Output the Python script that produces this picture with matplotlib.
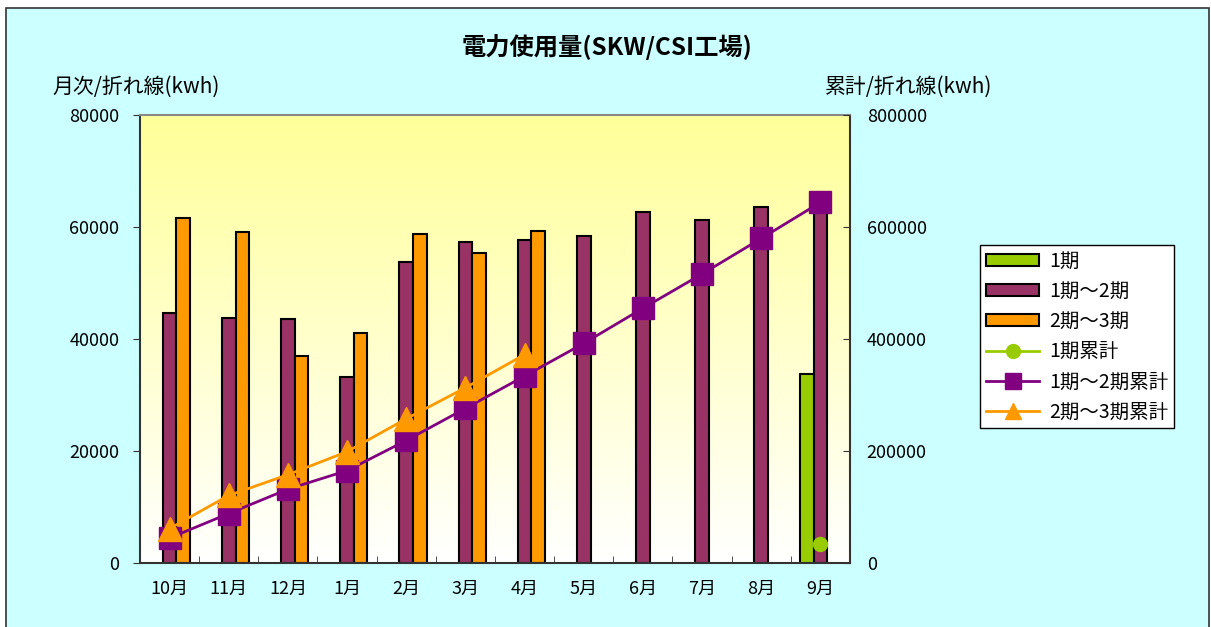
import numpy as np
import matplotlib
matplotlib.use("Agg")
import matplotlib.pyplot as plt
from matplotlib.patches import Rectangle, Patch
from matplotlib.lines import Line2D
from matplotlib.colors import LinearSegmentedColormap

plt.rcParams['font.family'] = ['Noto Sans CJK JP', 'DejaVu Sans']

months = ['10月', '11月', '12月', '1月', '2月', '3月', '4月', '5月', '6月', '7月', '8月', '9月']
# monthly bars
p1 = [None]*11 + [33800]
p12 = [44600, 43750, 43500, 33150, 53800, 57250, 57730, 58450, 62680, 61180, 63500, 64300]
p23 = [61600, 59100, 37000, 41130, 58750, 55360, 59220, None, None, None, None, None]
# cumulative lines
c1 = [None]*11 + [33800]
c12 = [44600, 88350, 131850, 165000, 218800, 276050, 333780, 392230, 454910, 516090, 579590, 643900]
c23 = [61600, 120700, 157700, 198830, 257580, 312940, 372160, None, None, None, None, None]

title = '電力使用量(SKW/CSI工場)'
ylabel_left = '月次/折れ線(kwh)'
ylabel_right = '累計/折れ線(kwh)'
names = ['1期', '1期～2期', '2期～3期', '1期累計', '1期～2期累計', '2期～3期累計']

c_green = '#99CC00'
c_maroon = '#993366'
c_orange = '#FF9900'
c_purple = '#800080'

W, H = 1211, 627
fig = plt.figure(figsize=(W/100, H/100), dpi=100, facecolor='white')
fig.patches.append(Rectangle((6/W, -0.05), (1209-6)/W, 1 - 8/H + 0.05, transform=fig.transFigure,
                             facecolor='#CCFFFF', edgecolor='#333333', linewidth=1.2, zorder=-10))

L, R, T, B = 140, 850, 115, 563
ax = fig.add_axes([L/W, 1 - B/H, (R-L)/W, (B-T)/H])
ax.set_facecolor('none')

grad = np.linspace(0, 1, 256).reshape(-1, 1)
cmap = LinearSegmentedColormap.from_list('g', ['#FFFF99', '#FFFFFF'])
ax.imshow(grad, aspect='auto', cmap=cmap, extent=[0, 1, 0, 1], transform=ax.transAxes,
          zorder=0, vmin=0, vmax=1.0)

x = np.arange(len(months))
w = 0.23

def arr(v):
    return np.array([np.nan if a is None else a for a in v], dtype=float)

ax.bar(x - w, arr(p1), width=w, color=c_green, edgecolor='black', linewidth=1.5, zorder=2)
ax.bar(x, arr(p12), width=w, color=c_maroon, edgecolor='black', linewidth=1.5, zorder=2)
ax.bar(x + w, arr(p23), width=w, color=c_orange, edgecolor='black', linewidth=1.5, zorder=2)

ax.set_xlim(-0.5, len(months) - 0.5)
ax.set_ylim(0, 80000)
ax.set_yticks([0, 20000, 40000, 60000, 80000])
ax.set_xticks(x)
ax.set_xticklabels(months)
ax.set_xticks(np.arange(0.5, len(months) - 0.5, 1), minor=True)
ax.tick_params(axis='x', which='major', length=0, pad=12, labelsize=13)
ax.tick_params(axis='x', which='minor', direction='in', length=5, color='#333333')
ax.tick_params(axis='y', direction='out', length=5, pad=10, labelsize=13, color='#333333')
for s in ['left', 'bottom', 'right']:
    ax.spines[s].set_color('#333333')
    ax.spines[s].set_linewidth(1.5)
ax.spines['top'].set_color('#888888')
ax.spines['top'].set_linewidth(1.5)

ax2 = ax.twinx()
ax2.set_ylim(0, 800000)
ax2.set_yticks([0, 200000, 400000, 600000, 800000])
ax2.tick_params(axis='y', direction='in', length=5, pad=12, labelsize=13, color='#333333')
for s in ax2.spines.values():
    s.set_visible(False)

ax2.plot(x, arr(c12), color=c_purple, linewidth=2, marker='s', markersize=16,
         markeredgecolor=c_purple, zorder=3)
ax2.plot(x, arr(c23), color=c_orange, linewidth=2, marker='^', markersize=17,
         markeredgecolor=c_orange, zorder=4)
ax2.plot(x, arr(c1), color=c_green, linewidth=2, marker='o', markersize=10,
         markeredgecolor=c_green, zorder=5)

fig.text(607/W, 1 - 47/H, title, ha='center', va='center', fontsize=17.5, fontweight='bold')
fig.text(52/W, 1 - 87/H, ylabel_left, ha='left', va='center', fontsize=15)
fig.text(825/W, 1 - 87/H, ylabel_right, ha='left', va='center', fontsize=15)

handles = [
    Patch(facecolor=c_green, edgecolor='black', linewidth=1.5),
    Patch(facecolor=c_maroon, edgecolor='black', linewidth=1.5),
    Patch(facecolor=c_orange, edgecolor='black', linewidth=1.5),
    Line2D([], [], color=c_green, linewidth=2, marker='o', markersize=10),
    Line2D([], [], color=c_purple, linewidth=2, marker='s', markersize=11),
    Line2D([], [], color=c_orange, linewidth=2, marker='^', markersize=12),
]
leg = fig.legend(handles, names, loc='upper left', bbox_to_anchor=(980/W, 1 - 245/H),
                 frameon=True, fancybox=False, edgecolor='black', framealpha=1,
                 fontsize=14, handlelength=2.75, handleheight=0.6, labelspacing=0.47,
                 borderpad=0.3, handletextpad=0.5, borderaxespad=0)
leg.get_frame().set_linewidth(1.0)

fig.savefig('out.png', dpi=100, facecolor=fig.get_facecolor())
